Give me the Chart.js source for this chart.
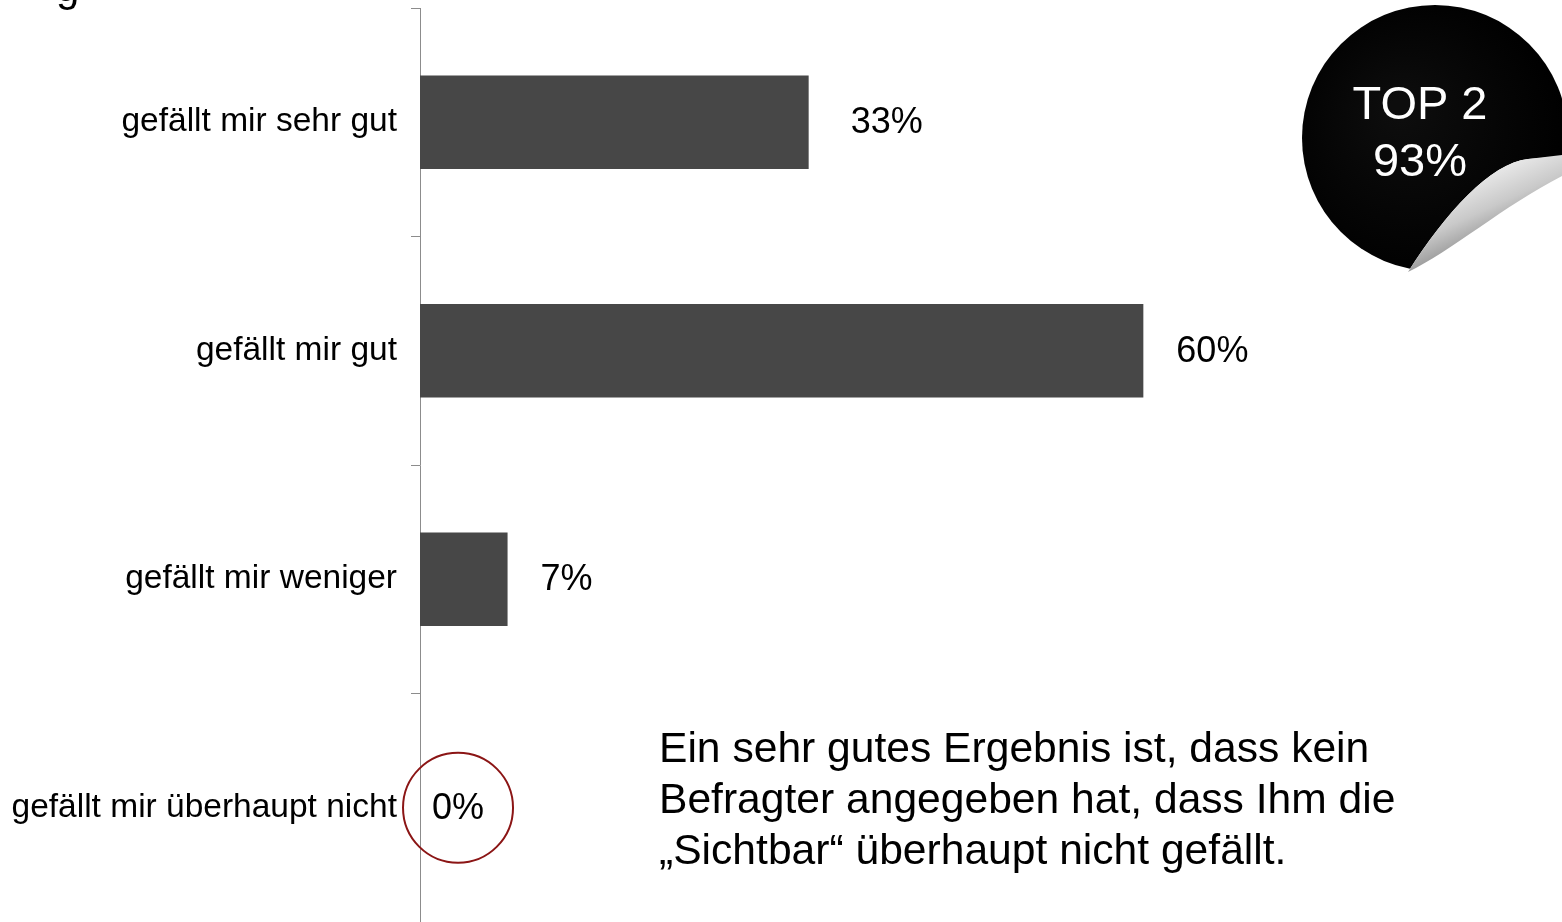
<!DOCTYPE html>
<html>
<head>
<meta charset="utf-8">
<script src="https://cdn.jsdelivr.net/npm/chart.js@4/dist/chart.umd.min.js"></script>
<style>
html,body{margin:0;padding:0;background:#fff;overflow:hidden;}
#wrap{width:1562px;height:922px;position:relative;}
</style>
</head>
<body>
<div id="wrap"><canvas id="c" width="1562" height="922"></canvas></div>
<script>
// ---- data ----
const categories = ['gefällt mir sehr gut', 'gefällt mir gut', 'gefällt mir weniger', 'gefällt mir überhaupt nicht'];
const shares = [32.4, 60.3, 7.3, 0];
const shareLabels = ['33%', '60%', '7%', '0%'];
const top2Lines = ['TOP 2', '93%'];
const noteLines = [
  'Ein sehr gutes Ergebnis ist, dass kein',
  'Befragter angegeben hat, dass Ihm die',
  '\u201ESichtbar\u201C überhaupt nicht gefällt.'
];
const titleFragment = 'g';

// ---- styles ----
const FONT = "'Liberation Sans', Arial, Helvetica, sans-serif";
const BAR_COLOR = '#474747';
const AXIS_COLOR = '#8c8c8c';
const LABEL_GAP = 33;
const LABEL_NUDGE = [9, 0, 0, -21];

const decorPlugin = {
  id: 'decor',
  afterDatasetsDraw(chart) {
    const ctx = chart.ctx;
    const meta = chart.getDatasetMeta(0);
    ctx.save();
    ctx.font = '36px ' + FONT;
    ctx.fillStyle = '#000';
    ctx.textAlign = 'left';
    ctx.textBaseline = 'middle';
    meta.data.forEach((bar, i) => {
      ctx.fillText(shareLabels[i], bar.x + LABEL_GAP + LABEL_NUDGE[i], bar.y + 1);
    });
    // red circle around the zero label
    const zi = shares.indexOf(0);
    if (zi >= 0) {
      const b = meta.data[zi];
      const w = ctx.measureText(shareLabels[zi]).width;
      const cx = b.x + LABEL_GAP + LABEL_NUDGE[zi] + w / 2;
      ctx.beginPath();
      ctx.arc(cx, b.y, 55, 0, Math.PI * 2);
      ctx.strokeStyle = '#8b1515';
      ctx.lineWidth = 2;
      ctx.stroke();
    }
    ctx.restore();
  },
  afterDraw(chart) {
    const ctx = chart.ctx;
    ctx.save();
    // cut-off title fragment
    ctx.font = '42px ' + FONT;
    ctx.fillStyle = '#000';
    ctx.textBaseline = 'alphabetic';
    ctx.textAlign = 'left';
    ctx.fillText(titleFragment, 56, 1);

    // note text
    ctx.font = '42.6px ' + FONT;
    ctx.textBaseline = 'middle';
    noteLines.forEach((t, i) => ctx.fillText(t, 659, 750 + i * 51));

    // sticker
    const cx = 1435, cy = 138, r = 133;
    ctx.save();
    ctx.beginPath();
    ctx.arc(cx, cy, r, 0, Math.PI * 2);
    ctx.clip();
    ctx.beginPath();
    ctx.moveTo(1290, -5);
    ctx.lineTo(1570, -5);
    ctx.lineTo(1570, 156);
    ctx.lineTo(1528, 159);
    ctx.bezierCurveTo(1490, 163, 1445, 214, 1408, 272);
    ctx.lineTo(1290, 300);
    ctx.closePath();
    const g = ctx.createRadialGradient(1400, 110, 10, 1420, 140, 150);
    g.addColorStop(0, '#0d0d0d');
    g.addColorStop(0.6, '#050505');
    g.addColorStop(1, '#000');
    ctx.fillStyle = g;
    ctx.fill();
    ctx.restore();

    // page curl
    ctx.beginPath();
    ctx.moveTo(1562, 155);
    ctx.lineTo(1528, 159);
    ctx.bezierCurveTo(1490, 163, 1445, 214, 1408, 272);
    ctx.bezierCurveTo(1450, 252, 1505, 205, 1562, 176);
    ctx.closePath();
    const cg = ctx.createLinearGradient(1470, 180, 1495, 235);
    cg.addColorStop(0, '#e9e9e9');
    cg.addColorStop(0.55, '#c9c9c9');
    cg.addColorStop(1, '#9a9a9a');
    ctx.fillStyle = cg;
    ctx.fill();

    // sticker text
    ctx.fillStyle = '#fff';
    ctx.font = '47px ' + FONT;
    ctx.textAlign = 'center';
    ctx.textBaseline = 'middle';
    ctx.fillText(top2Lines[0], 1420, 106);
    ctx.fillText(top2Lines[1], 1420, 163);
    ctx.restore();
  }
};

Chart.defaults.font.family = FONT;

new Chart(document.getElementById('c'), {
  type: 'bar',
  data: {
    labels: categories,
    datasets: [{
      data: shares,
      backgroundColor: BAR_COLOR,
      borderWidth: 0,
      categoryPercentage: 1,
      barPercentage: 0.41
    }]
  },
  options: {
    indexAxis: 'y',
    responsive: false,
    animation: false,
    devicePixelRatio: 1,
    layout: { padding: { top: 8, bottom: 0, left: 0, right: 0 } },
    plugins: { legend: { display: false }, tooltip: { enabled: false }, title: { display: false } },
    scales: {
      x: { display: false, min: 0, max: 95.2 },
      y: {
        position: 'left',
        grid: { drawOnChartArea: false, drawTicks: true, tickLength: 9, color: AXIS_COLOR, offset: true },
        border: { display: true, color: AXIS_COLOR, width: 1 },
        ticks: { color: '#000', font: { size: 33.5, family: FONT }, padding: 14, autoSkip: false },
        afterFit(s) { s.width = 420; s.paddingTop = 0; s.paddingBottom = 0; }
      }
    }
  },
  plugins: [decorPlugin]
});
</script>
</body>
</html>
